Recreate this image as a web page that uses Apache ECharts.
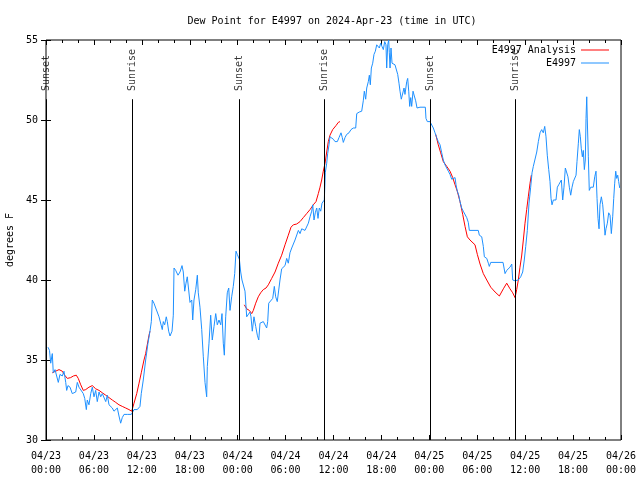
<!DOCTYPE html>
<html><head><meta charset="utf-8">
<script src="https://cdn.jsdelivr.net/npm/echarts@6/dist/echarts.min.js"></script>
<style>html,body{margin:0;padding:0;background:#fff}#c{width:640px;height:480px}</style>
</head><body><div id="c"></div>
<script>
// x values are hours since 2024-04-23 00:00 UTC
const xTickLabels = ['04/23\n00:00','04/23\n06:00','04/23\n12:00','04/23\n18:00','04/24\n00:00','04/24\n06:00','04/24\n12:00','04/24\n18:00','04/25\n00:00','04/25\n06:00','04/25\n12:00','04/25\n18:00','04/26\n00:00'];
const sunEvents = ['Sunset','Sunrise','Sunset','Sunrise','Sunset','Sunrise'];
const sunHours = [0.08, 10.8, 24.2, 34.87, 48.12, 58.8];

const observed = [[0.25,35.8],[0.44,35.6],[0.59,34.8],[0.79,35.4],[0.91,34.2],[1.13,34.4],[1.34,34.5],[1.54,33.6],[1.75,34.1],[2.04,34.0],[2.25,34.3],[2.47,33.6],[2.59,33.1],[2.75,33.4],[3.01,33.3],[3.29,32.9],[3.72,33.0],[3.92,33.6],[4.13,33.3],[4.35,33.3],[4.67,32.9],[4.85,32.6],[5.05,31.9],[5.17,32.5],[5.38,32.2],[5.60,32.9],[5.80,33.3],[6.01,32.7],[6.22,33.1],[6.42,32.4],[6.64,33.0],[6.85,32.7],[7.05,32.9],[7.26,33.0],[7.48,32.4],[7.68,32.8],[7.89,32.2],[8.10,32.1],[8.30,32.0],[8.51,31.8],[8.73,31.8],[8.93,32.0],[9.14,31.5],[9.35,31.05],[9.55,31.4],[9.77,31.6],[10.18,31.6],[10.68,31.6],[11.02,31.9],[11.43,31.9],[11.77,32.1],[11.93,32.9],[12.18,33.75],[12.48,35.0],[12.77,36.05],[13.02,36.8],[13.19,37.4],[13.31,38.75],[13.52,38.55],[13.74,38.25],[13.94,38.25],[14.15,37.7],[14.36,37.6],[14.56,36.9],[14.69,37.4],[14.86,37.2],[15.06,37.7],[15.19,37.4],[15.36,36.8],[15.53,36.5],[15.78,36.8],[15.94,37.8],[16.03,40.75],[16.24,40.6],[16.53,40.3],[16.78,40.5],[17.03,40.9],[17.19,40.5],[17.37,39.3],[17.53,39.8],[17.69,40.2],[17.87,40.3],[18.03,38.6],[18.25,38.75],[18.37,37.5],[18.53,38.75],[18.75,39.4],[18.95,40.3],[19.07,39.2],[19.28,38.3],[19.50,36.9],[19.70,35.2],[19.91,33.6],[20.12,32.7],[20.20,34.6],[20.41,36.05],[20.62,37.8],[20.82,36.25],[21.04,37.1],[21.25,37.9],[21.45,37.2],[21.66,37.5],[21.88,37.2],[22.04,37.9],[22.20,36.05],[22.33,35.3],[22.50,37.7],[22.70,39.2],[22.88,39.5],[23.04,38.1],[23.25,38.95],[23.45,39.6],[23.63,40.4],[23.79,41.8],[23.95,41.6],[24.21,41.3],[24.38,40.5],[24.54,40.0],[24.71,40.0],[24.92,39.3],[25.13,37.7],[25.33,37.7],[25.54,38.0],[25.67,37.7],[25.83,36.8],[26.04,37.7],[26.26,37.1],[26.46,36.55],[26.64,36.25],[26.80,37.3],[27.01,37.2],[27.21,37.4],[27.42,37.3],[27.63,37.0],[27.76,37.4],[27.89,38.55],[28.14,38.65],[28.39,38.85],[28.59,39.6],[28.76,38.95],[28.96,38.65],[29.18,38.75],[29.30,40.0],[29.51,40.7],[29.71,40.6],[29.93,40.9],[30.14,41.35],[30.34,41.05],[30.55,41.7],[30.77,42.0],[30.97,41.9],[31.18,42.5],[31.39,42.6],[31.60,43.1],[31.81,42.9],[32.02,43.2],[32.22,43.3],[32.43,43.1],[32.64,43.0],[32.85,43.55],[33.06,43.95],[33.27,44.3],[33.40,44.7],[33.56,43.75],[33.72,44.2],[33.90,44.5],[34.06,43.85],[34.22,44.5],[34.40,44.3],[34.56,44.8],[34.72,44.7],[34.85,45.0],[34.97,46.7],[35.15,47.3],[35.27,47.9],[35.44,48.45],[35.56,48.95],[35.78,49.05],[35.98,48.8],[36.19,48.65],[36.48,48.65],[36.69,48.9],[36.94,49.2],[37.10,48.9],[37.23,48.6],[37.44,48.9],[37.65,49.1],[37.94,49.2],[38.19,49.4],[38.48,49.5],[38.78,49.5],[38.91,50.4],[39.23,50.5],[39.53,50.55],[39.73,51.2],[39.86,51.8],[40.03,51.3],[40.16,52.0],[40.36,52.4],[40.49,52.8],[40.61,52.2],[40.74,53.25],[40.91,53.55],[41.07,54.1],[41.24,54.3],[41.41,54.7],[41.57,54.8],[41.74,54.5],[41.91,54.8],[42.07,54.6],[42.24,54.4],[42.41,54.9],[42.57,54.7],[42.66,53.25],[42.79,54.7],[42.91,55.0],[42.99,54.2],[43.08,53.25],[43.20,54.5],[43.33,53.55],[43.49,53.55],[43.70,53.45],[43.91,53.35],[44.04,52.85],[44.20,52.3],[44.33,51.8],[44.49,51.3],[44.67,51.4],[44.83,52.0],[44.95,51.6],[45.17,52.4],[45.29,52.6],[45.42,51.8],[45.54,50.85],[45.67,51.4],[45.79,50.85],[45.96,51.8],[46.12,51.5],[46.29,51.2],[46.46,50.75],[46.83,50.8],[47.50,50.8],[47.58,50.1],[47.75,49.9],[48.08,49.9],[48.30,49.8],[48.50,49.5],[48.71,49.2],[48.92,48.9],[49.12,48.65],[49.34,48.45],[49.55,47.95],[49.75,47.5],[49.96,47.2],[50.18,47.1],[50.38,46.8],[50.59,46.6],[50.80,46.3],[51.00,46.2],[51.22,46.4],[51.34,45.95],[51.50,45.55],[51.68,45.3],[51.84,44.9],[52.05,44.5],[52.25,44.3],[52.47,44.2],[52.68,43.9],[52.88,43.6],[53.01,43.1],[54.13,43.1],[54.26,42.8],[54.56,42.7],[54.76,42.1],[54.89,41.45],[55.19,41.35],[55.39,41.05],[55.51,40.85],[55.69,41.1],[57.23,41.1],[57.48,40.4],[57.69,40.6],[58.10,40.8],[58.32,41.0],[58.44,40.0],[58.73,39.95],[59.14,40.0],[59.44,40.2],[59.69,40.5],[59.89,41.25],[60.07,42.1],[60.27,43.1],[60.48,44.8],[60.69,45.8],[60.86,46.7],[61.02,47.1],[61.23,47.2],[61.45,48.0],[61.65,48.65],[61.86,49.2],[62.07,49.4],[62.27,49.2],[62.45,49.6],[62.61,48.95],[62.77,47.8],[62.95,46.9],[63.11,46.15],[63.24,45.1],[63.36,44.7],[63.53,45.0],[63.74,45.1],[63.86,45.0],[64.03,45.8],[64.20,45.95],[64.36,46.05],[64.53,46.25],[64.70,45.0],[64.86,45.8],[65.03,47.0],[65.20,47.0],[65.36,46.45],[65.53,45.8],[65.70,45.3],[65.87,45.8],[66.03,46.15],[66.20,46.25],[66.37,46.55],[66.49,47.4],[66.66,48.55],[66.78,49.4],[66.91,48.95],[67.03,48.2],[67.16,47.7],[67.28,48.1],[67.41,46.9],[67.53,47.5],[67.62,50.1],[67.71,51.45],[67.78,50.0],[67.91,47.7],[68.03,45.6],[68.21,45.8],[68.37,45.7],[68.53,45.8],[68.71,46.45],[68.87,46.8],[69.00,45.1],[69.12,43.85],[69.25,43.2],[69.37,44.7],[69.54,45.2],[69.71,44.7],[69.87,43.75],[70.00,42.8],[70.12,43.2],[70.29,43.55],[70.46,44.2],[70.63,44.05],[70.79,42.9],[70.96,43.95],[71.09,45.1],[71.21,46.05],[71.34,46.8],[71.46,46.35],[71.59,46.55],[71.71,46.15],[71.84,45.75]];

const analysisDay1 = [[0.79,34.2],[1.21,34.3],[1.63,34.4],[2.04,34.3],[2.34,34.05],[2.67,33.85],[3.09,33.9],[3.42,34.0],[3.79,34.05],[4.04,33.85],[4.35,33.45],[4.67,33.1],[4.97,33.15],[5.38,33.3],[5.80,33.4],[6.22,33.2],[6.64,33.1],[7.05,32.95],[7.48,32.8],[7.89,32.65],[8.30,32.5],[8.73,32.35],[9.14,32.2],[9.55,32.1],[9.98,32.0],[10.39,31.9],[10.73,31.8],[11.02,32.3],[11.36,32.9],[11.65,33.55],[11.93,34.2],[12.27,35.0],[12.48,35.4],[12.68,35.95],[12.90,36.55],[13.02,36.8]];
const analysisDay2 = [[24.83,38.45],[25.13,38.2],[25.46,38.1],[25.76,37.9],[25.96,38.1],[26.26,38.55],[26.58,38.95],[26.88,39.2],[27.21,39.4],[27.55,39.5],[27.84,39.7],[28.26,40.1],[28.68,40.5],[29.09,41.05],[29.51,41.55],[29.93,42.2],[30.34,42.8],[30.68,43.3],[30.97,43.45],[31.39,43.5],[31.81,43.65],[32.22,43.9],[32.64,44.15],[33.06,44.4],[33.47,44.7],[33.81,44.9],[34.10,45.4],[34.31,45.8],[34.52,46.25],[34.72,46.8],[34.94,47.3],[35.15,48.0],[35.35,48.65],[35.56,49.05],[35.90,49.4],[36.31,49.65],[36.60,49.85],[36.81,49.9]];
const analysisDay3 = [[48.80,49.1],[49.12,48.45],[49.42,47.95],[49.75,47.4],[50.18,47.1],[50.59,46.8],[50.93,46.4],[51.22,45.95],[51.50,45.55],[51.84,44.9],[52.18,44.1],[52.47,43.35],[52.76,42.7],[53.09,42.5],[53.72,42.2],[54.01,41.6],[54.35,41.0],[54.76,40.4],[55.19,40.0],[55.69,39.55],[56.23,39.25],[56.77,39.0],[57.27,39.45],[57.69,39.8],[58.10,39.45],[58.44,39.2],[58.73,38.9],[58.94,39.4],[59.14,40.0],[59.35,40.8],[59.56,41.5],[59.77,42.5],[59.98,43.55],[60.19,44.4],[60.39,45.2],[60.61,46.05],[60.77,46.55]];

const FONT = 'DejaVu Sans Mono';
const yMin = 30, yMax = 55, sunLineTop = 51.3, sunLabelBase = 51.75;
const chart = echarts.init(document.getElementById('c'), null, {renderer: 'canvas'});

const xAxisBase = {
  type: 'value', min: 0, max: 72, interval: 6,
  axisLine: {show: false},
  axisTick: {show: true, inside: true, length: 5, lineStyle: {color: '#000'}},
  minorTick: {show: true, splitNumber: 3, length: 3, lineStyle: {color: '#000'}},
  splitLine: {show: false}, minorSplitLine: {show: false}
};
const yAxisBase = {
  type: 'value', min: yMin, max: yMax, interval: 5,
  axisLine: {show: false},
  axisTick: {show: true, inside: true, length: 5, lineStyle: {color: '#000'}},
  splitLine: {show: false}
};
const redStyle = {type: 'line', name: 'E4997 Analysis', showSymbol: false, color: '#ff0000',
  lineStyle: {color: '#ff0000', width: 1}, z: 2, silent: true};

const option = {
  animation: false,
  backgroundColor: '#ffffff',
  textStyle: {fontFamily: FONT},
  title: {
    text: 'Dew Point for E4997 on 2024-Apr-23 (time in UTC)',
    left: 327, top: 11, textAlign: 'center',
    textStyle: {fontFamily: FONT, fontSize: 10, fontWeight: 'normal', color: '#000'}
  },
  legend: {
    data: ['E4997 Analysis', 'E4997'],
    orient: 'vertical', right: 26, top: 39, align: 'right',
    itemWidth: 28, itemHeight: 1, itemGap: 1, icon: 'rect', selectedMode: false,
    textStyle: {fontFamily: FONT, fontSize: 10, color: '#000', lineHeight: 12}
  },
  grid: {left: 46, right: 19, top: 40, bottom: 40, show: true, borderColor: '#000', borderWidth: 1,
    backgroundColor: 'transparent', containLabel: false, outerBoundsMode: 'none'},
  xAxis: [
    Object.assign({}, xAxisBase, {position: 'bottom',
      axisLabel: {show: true, color: '#000', fontFamily: FONT, fontSize: 10, lineHeight: 14, margin: 9,
        formatter: v => xTickLabels[Math.round(v / 6)]}}),
    Object.assign({}, xAxisBase, {position: 'top', axisLabel: {show: false}})
  ],
  yAxis: [
    Object.assign({}, yAxisBase, {position: 'left',
      name: 'degrees F', nameLocation: 'middle', nameGap: 31,
      nameTextStyle: {fontFamily: FONT, fontSize: 10, color: '#000'},
      axisLabel: {show: true, color: '#000', fontFamily: FONT, fontSize: 10, margin: 8}}),
    Object.assign({}, yAxisBase, {position: 'right', axisLabel: {show: false}})
  ],
  series: [
    Object.assign({}, redStyle, {data: analysisDay1}),
    Object.assign({}, redStyle, {data: analysisDay2}),
    Object.assign({}, redStyle, {data: analysisDay3}),
    {type: 'line', name: 'E4997', showSymbol: false, color: '#1e90ff', silent: true,
     lineStyle: {color: '#1e90ff', width: 1}, z: 3, data: observed},
    {type: 'scatter', name: 'sun', symbolSize: 0, silent: true, z: 4,
     data: sunHours.map(h => [h, sunLabelBase]),
     label: {show: true, position: 'inside', rotate: 90, align: 'left', verticalAlign: 'middle',
       formatter: p => sunEvents[p.dataIndex], fontFamily: FONT, fontSize: 10, color: '#000', offset: [1, 0]},
     markLine: {silent: true, symbol: ['none', 'none'], label: {show: false},
       lineStyle: {color: '#000', width: 1, type: 'solid'},
       data: sunHours.map(h => [{coord: [h, yMin]}, {coord: [h, sunLineTop]}])}}
  ]
};
chart.setOption(option);
</script>
</body></html>
